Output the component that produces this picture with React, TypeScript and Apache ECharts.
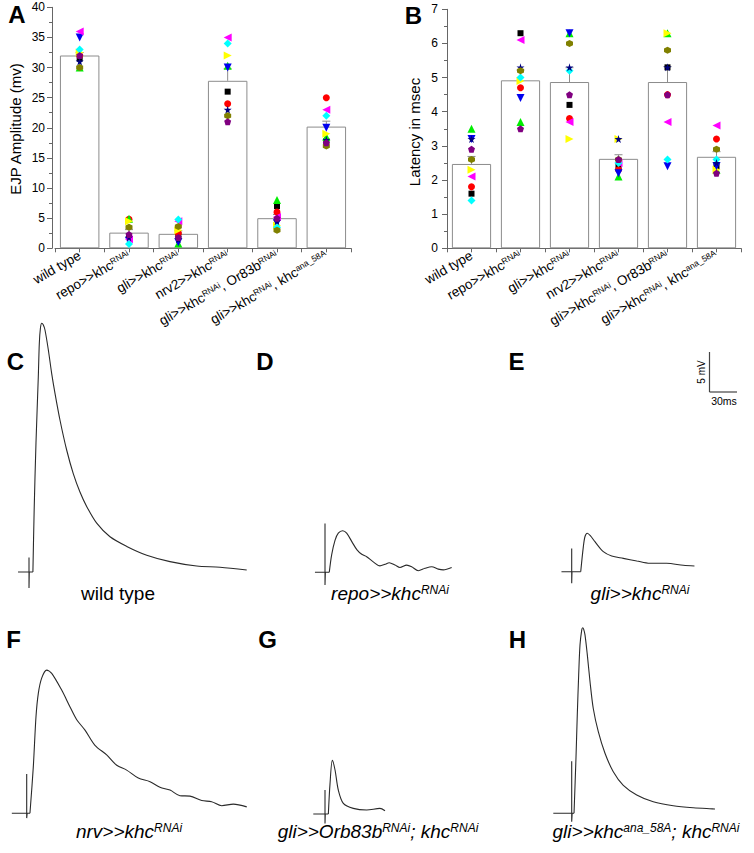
import React, { useEffect, useRef } from 'react';
import * as echarts from 'echarts';

const FONT = "'Liberation Sans', Arial, Helvetica, sans-serif";
const AXIS = '#666666';

// ---------- bar charts ----------
const categories = [
  'wild type',
  'repo>>khcRNAi',
  'gli>>khcRNAi',
  'nrv2>>khcRNAi',
  'gli>>khcRNAi, Or83bRNAi',
  'gli>>khcRNAi, khcana_58A',
];
const categoryLabels = [
  '{n|wild type}',
  '{n|repo>>khc}{s|RNAi}',
  '{n|gli>>khc}{s|RNAi}',
  '{n|nrv2>>khc}{s|RNAi}',
  '{n|gli>>khc}{s|RNAi}{n|, Or83b}{s|RNAi}',
  '{n|gli>>khc}{s|RNAi}{n|, khc}{s|ana_58A}',
];
const tickSlots = ['', '', '', '', '', '', '', '', '', '', '', ''];

const ampTicks = [0, 5, 10, 15, 20, 25, 30, 35, 40];
const latTicks = [0, 1, 2, 3, 4, 5, 6, 7];

const ampMeans = [32.0, 2.6, 2.4, 27.8, 5.0, 20.2];
const ampErr = [0.5, 0.5, 0.5, 2.0, 0.6, 0.9];
const latMeans = [2.47, 4.92, 4.87, 2.62, 4.87, 2.68];
const latErr = [0.22, 0.3, 0.42, 0.12, 0.45, 0.15];

// individual recordings, one array per marker (black, red, green, yellow, blue, magenta, cyan, star, olive, purple)
const ampBlack = [31.5, 2.0, 2.2, 26, 7, 17.8];
const ampRed = [32, 4.8, 2.5, 24, 6, 25];
const ampGreen = [30, 4.9, 0.8, 30.3, 8, 18.5];
const ampYellow = [32.5, 4.5, 3.0, 32, 3.8, 19];
const ampBlue = [35, 1.2, 1.0, 30, 4.2, 20];
const ampMagenta = [36, 1.5, 4.5, 35, 5.2, 23];
const ampCyan = [33, 0.7, 4.8, 34, 3.5, 22];
const ampStar = [31, 1.8, 1.5, 23, 4.5, 18];
const ampOlive = [30, 3.5, 3.6, 22, 3, 17];
const ampPurple = [32, 2.3, 1.8, 21, 5, 17.5];

const latBlack = [1.6, 6.3, 4.2, 2.4, 5.3, 2.4];
const latRed = [1.8, 4.7, 3.8, 2.3, 4.5, 3.2];
const latGreen = [3.5, 3.7, 6.3, 2.1, 6.3, 2.3];
const latYellow = [2.3, 4.9, 3.2, 3.2, 6.3, 2.3];
const latBlue = [3.2, 4.4, 6.3, 2.2, 2.4, 2.4];
const latMagenta = [2.1, 6.1, 3.7, 2.5, 3.7, 3.6];
const latCyan = [1.4, 5.0, 5.2, 2.5, 2.6, 2.6];
const latStar = [3.2, 5.3, 5.3, 3.2, 5.3, 2.5];
const latOlive = [2.6, 5.2, 6.0, 2.6, 5.8, 2.9];
const latPurple = [2.9, 3.5, 4.5, 2.6, 4.5, 2.2];

const ampPoints = [ampBlack, ampRed, ampGreen, ampYellow, ampBlue, ampMagenta, ampCyan, ampStar, ampOlive, ampPurple];
const latPoints = [latBlack, latRed, latGreen, latYellow, latBlue, latMagenta, latCyan, latStar, latOlive, latPurple];

const STAR = 'path://M50,0 L61,35 L98,35 L68,57 L79,91 L50,70 L21,91 L32,57 L2,35 L39,35 Z';
const HEX = 'path://M50,0 L93,25 L93,75 L50,100 L7,75 L7,25 Z';
const PENT = 'path://M50,0 L98,35 L79,95 L21,95 L2,35 Z';
const markerStyles = [
  { symbol: 'rect', color: '#000000', size: 6, rotate: 0 },
  { symbol: 'circle', color: '#ff0000', size: 7, rotate: 0 },
  { symbol: 'triangle', color: '#00ee00', size: 8, rotate: 0 },
  { symbol: 'triangle', color: '#ffff00', size: 8, rotate: -90 },
  { symbol: 'triangle', color: '#0000ee', size: 8, rotate: 180 },
  { symbol: 'triangle', color: '#ff00ff', size: 8, rotate: 90 },
  { symbol: 'diamond', color: '#00ffff', size: 8, rotate: 0 },
  { symbol: STAR, color: '#000080', size: 8, rotate: 0 },
  { symbol: HEX, color: '#808000', size: 7, rotate: 0 },
  { symbol: PENT, color: '#800080', size: 7, rotate: 0 },
];

// ---------- EJP traces (ms, mV), stimulus at 0 ms ----------
const artifactC = [[-11.8, 0], [0, 0], [0, 1.8], [0, -2], [0.3, 0], [4.2, 0]];
const traceC = [[4.2, 0], [5.6, 8], [7.5, 16.1], [10.0, 24.4], [11.1, 28.6], [12.3, 30.5], [13.7, 31.1], [15.3, 30.9], [17.2, 30.25], [20.8, 27.75], [24.4, 24.8], [28.0, 22.3], [33.3, 19.0], [40.5, 15.25], [47.6, 12.3], [54.8, 10.0], [62.0, 8.2], [72.8, 6.1], [87.1, 4.4], [105.1, 3.2], [126.6, 2.1], [151.6, 1.3], [180.3, 0.75], [205.4, 0.6], [234.1, 0.25]];

const artifactD = [[-10.8, 0], [0, 0], [0, 6.1], [0, -1.6], [0.4, 0], [4.6, 0]];
const traceD = [[4.6, 0], [7.2, 2.2], [10.75, 4.0], [14.3, 4.9], [19.0, 5.2], [23.3, 4.9], [29.0, 3.8], [34.4, 2.8], [39.5, 2.25], [44.8, 1.95], [51.9, 1.3], [59.1, 0.8], [64.5, 1.0], [69.1, 1.2], [75.3, 0.9], [80.6, 0.6], [87.8, 0.9], [93.2, 0.7], [100.3, 0.2], [107.5, 0.5], [114.7, 0.7], [121.8, 0.4], [127.2, 0.3], [136.2, 0.6]];

const artifactE = [[-11, 0], [0, 0], [0, 2.9], [0, -1.45], [0.3, 0], [9.7, 0]];
const traceE = [[9.7, 0], [12.5, 3.1], [14.3, 4.4], [16.8, 4.8], [20, 4.5], [25, 3.75], [34, 2.5], [43, 1.96], [55.5, 1.67], [70, 1.34], [84, 1.05], [102, 1.05], [120, 0.8], [132, 0.71]];

const artifactF = [[-16, 0], [0, 0], [0, 4.9], [0, -0.6], [0.5, 0], [3.5, 0]];
const traceF = [[3.5, 0], [7.1, 5.8], [10.0, 12.1], [12.5, 15.0], [16.1, 16.9], [21.5, 17.9], [26.9, 17.5], [37.6, 15.4], [46.6, 13.3], [53.8, 11.7], [62.7, 10.4], [73.4, 8.5], [86.0, 7.3], [96.8, 6.0], [107.5, 5.4], [120.0, 4.4], [132.6, 3.95], [143.3, 3.25], [154.1, 2.9], [164.8, 2.2], [175.6, 2.15], [188.2, 1.6], [198.9, 1.45], [209.7, 0.95], [222.2, 1.15], [236.6, 0.8]];

const artifactG = [[-12.6, 0], [0, 0], [0, 3], [0, -1.2], [0.3, 0], [3.6, 0]];
const traceG = [[3.6, 0], [5.4, 3.8], [7.9, 6.7], [10.8, 5.5], [14.3, 3], [19.7, 1.33], [30.4, 0.7], [44.8, 0.5], [59, 0.7], [64.5, 0.4]];

const artifactH = [[-19.8, 0], [0, 0], [0, 6.5], [0, -1.05], [0.5, 0], [2.5, 0]];
const traceH = [[2.5, 0], [4.6, 6.9], [6.0, 12.3], [7.5, 17.3], [8.9, 21.0], [10.75, 22.9], [11.8, 23.2], [12.9, 23.0], [14.3, 22.3], [16.8, 19.8], [19.7, 16.45], [23.2, 13.1], [28.6, 10.2], [35.8, 7.5], [44.7, 5.2], [55.5, 3.5], [69.9, 2.3], [87.7, 1.45], [109.2, 0.95], [130.8, 0.7], [154.1, 0.54]];

// layout of the trace panels (pixel origin of stimulus / baseline)
const SX = 0.93; // px per ms
const SY = 8; // px per mV
const XMIN = -22;
const YMIN = -4;
const YMAX = 34;
const tracePanels = [
  { ox: 29, oy: 572, xmax: 250, artifact: artifactC, trace: traceC },
  { ox: 325, oy: 572.3, xmax: 160, artifact: artifactD, trace: traceD },
  { ox: 571.7, oy: 571.7, xmax: 160, artifact: artifactE, trace: traceE },
  { ox: 26.7, oy: 813.3, xmax: 250, artifact: artifactF, trace: traceF },
  { ox: 325, oy: 814, xmax: 160, artifact: artifactG, trace: traceG },
  { ox: 571.7, oy: 813.3, xmax: 170, artifact: artifactH, trace: traceH },
];

const traceLabels = [
  { x: 118, y: 593, text: '{w|wild type}' },
  { x: 390, y: 593, text: '{n|repo>>khc}{s|RNAi}' },
  { x: 640, y: 593, text: '{n|gli>>khc}{s|RNAi}' },
  { x: 129, y: 831, text: '{n|nrv>>khc}{s|RNAi}' },
  { x: 378, y: 831, text: '{n|gli>>Orb83b}{s|RNAi}{n|; khc}{s|RNAi}' },
  { x: 646, y: 831, text: '{n|gli>>khc}{s|ana_58A}{n|; khc}{s|RNAi}' },
];

const panelLetters = [
  { t: 'A', x: 17, y: 14.5 },
  { t: 'B', x: 413.5, y: 15.5 },
  { t: 'C', x: 15.5, y: 361 },
  { t: 'D', x: 265, y: 361 },
  { t: 'E', x: 516.5, y: 361 },
  { t: 'F', x: 13.5, y: 639 },
  { t: 'G', x: 267.5, y: 639 },
  { t: 'H', x: 517.5, y: 639 },
];

function buildOption() {
  const xRich = {
    n: { fontSize: 13.5, fontFamily: FONT, color: '#000' },
    s: { fontSize: 8.5, fontFamily: FONT, color: '#000', verticalAlign: 'top' },
  };

  const barGrids = [
    { left: 55, top: 7.3, width: 296, height: 241 },
    { left: 447, top: 9.3, width: 294, height: 239 },
  ];
  const traceGrids = tracePanels.map((p) => ({
    left: p.ox + XMIN * SX,
    top: p.oy - YMAX * SY,
    width: (p.xmax - XMIN) * SX,
    height: (YMAX - YMIN) * SY,
  }));
  const grids = [...barGrids, ...traceGrids].map((g) => ({ ...g, outerBoundsMode: 'none', containLabel: false }));

  const mainX = (gridIndex: number) => ({
    type: 'category',
    gridIndex,
    data: categories,
    boundaryGap: true,
    axisLine: { show: true, lineStyle: { color: AXIS, width: 1 } },
    axisTick: { show: false },
    axisLabel: {
      interval: 0,
      rotate: 30,
      margin: 6,
      formatter: (_v: string, i: number) => categoryLabels[i],
      rich: xRich,
    },
    splitLine: { show: false },
  });
  const tickX = (gridIndex: number) => ({
    type: 'category',
    gridIndex,
    data: tickSlots,
    position: 'bottom',
    offset: 0,
    boundaryGap: true,
    axisLine: { show: false },
    axisTick: { show: true, length: 4, lineStyle: { color: AXIS } },
    axisLabel: { show: false },
    splitLine: { show: false },
  });
  const valY = (gridIndex: number, ticks: number[], offset: number, margin: number) => ({
    type: 'value',
    gridIndex,
    min: ticks[0],
    max: ticks[ticks.length - 1],
    interval: ticks[1] - ticks[0],
    offset,
    axisLine: { show: true, lineStyle: { color: AXIS, width: 1 } },
    axisTick: { show: true, length: 5, lineStyle: { color: AXIS } },
    minorTick: { show: true, splitNumber: 2, length: 3, lineStyle: { color: AXIS } },
    axisLabel: { margin, fontSize: 12, color: '#000', fontFamily: FONT },
    splitLine: { show: false },
    minorSplitLine: { show: false },
  });

  const xAxes: any[] = [mainX(0), tickX(0), mainX(1), tickX(1)];
  const yAxes: any[] = [valY(0, ampTicks, 3, 7), valY(1, latTicks, 0, 9)];
  tracePanels.forEach((p, t) => {
    xAxes.push({ type: 'value', gridIndex: 2 + t, min: XMIN, max: p.xmax, show: false });
    yAxes.push({ type: 'value', gridIndex: 2 + t, min: YMIN, max: YMAX, show: false });
  });

  const series: any[] = [];
  const addBarPanel = (xi: number, yi: number, means: number[], errs: number[], points: number[][]) => {
    series.push({
      type: 'bar',
      xAxisIndex: xi,
      yAxisIndex: yi,
      data: means,
      barWidth: '80%',
      itemStyle: { color: '#ffffff', borderColor: '#8c8c8c', borderWidth: 1 },
      z: 2,
    });
    series.push({
      type: 'custom',
      xAxisIndex: xi,
      yAxisIndex: yi,
      data: means.map((m, i) => [i, m, errs[i]]),
      encode: { x: 0, y: 1 },
      z: 3,
      renderItem: (_params: any, api: any) => {
        const i = api.value(0);
        const m = api.value(1);
        const e = api.value(2);
        const p0 = api.coord([i, m]);
        const p1 = api.coord([i, m + e]);
        return {
          type: 'group',
          children: [
            { type: 'line', shape: { x1: p0[0], y1: p0[1], x2: p1[0], y2: p1[1] }, style: { stroke: '#8c8c8c', lineWidth: 1 } },
            { type: 'line', shape: { x1: p1[0] - 4, y1: p1[1], x2: p1[0] + 4, y2: p1[1] }, style: { stroke: '#8c8c8c', lineWidth: 1 } },
          ],
        };
      },
    });
    points.forEach((vals, k) => {
      const m = markerStyles[k];
      series.push({
        type: 'scatter',
        xAxisIndex: xi,
        yAxisIndex: yi,
        data: vals.map((v, i) => [i, v]),
        symbol: m.symbol,
        symbolSize: m.size,
        symbolRotate: m.rotate,
        itemStyle: { color: m.color, opacity: 1 },
        z: 5,
      });
    });
  };
  addBarPanel(0, 0, ampMeans, ampErr, ampPoints);
  addBarPanel(2, 1, latMeans, latErr, latPoints);

  tracePanels.forEach((p, t) => {
    series.push({
      type: 'line',
      xAxisIndex: 4 + t,
      yAxisIndex: 2 + t,
      data: p.artifact,
      symbol: 'none',
      showSymbol: false,
      lineStyle: { color: '#2a2a2a', width: 1.1 },
      z: 4,
    });
    series.push({
      type: 'line',
      xAxisIndex: 4 + t,
      yAxisIndex: 2 + t,
      data: p.trace,
      symbol: 'none',
      showSymbol: false,
      smooth: 0.3,
      lineStyle: { color: '#2a2a2a', width: 1.1 },
      z: 4,
    });
  });

  const traceRich = {
    n: { fontSize: 19, fontFamily: FONT, fontStyle: 'italic', fill: '#000' },
    s: { fontSize: 12, fontFamily: FONT, fontStyle: 'italic', fill: '#000', verticalAlign: 'top' },
    w: { fontSize: 19, fontFamily: FONT, fontStyle: 'normal', fill: '#000' },
  };

  const graphic: any[] = [];
  panelLetters.forEach((l) => {
    graphic.push({
      type: 'text',
      x: l.x,
      y: l.y,
      style: { text: l.t, fontSize: 24, fontWeight: 'bold', fontFamily: FONT, fill: '#000', align: 'center', verticalAlign: 'middle' },
    });
  });
  graphic.push({
    type: 'text',
    x: 15.5,
    y: 129,
    rotation: Math.PI / 2,
    style: { text: 'EJP Amplitude (mv)', fontSize: 15, fontFamily: FONT, fill: '#000', align: 'center', verticalAlign: 'middle' },
  });
  graphic.push({
    type: 'text',
    x: 414.5,
    y: 132,
    rotation: Math.PI / 2,
    style: { text: 'Latency in msec', fontSize: 15, fontFamily: FONT, fill: '#000', align: 'center', verticalAlign: 'middle' },
  });
  traceLabels.forEach((l) => {
    graphic.push({
      type: 'text',
      x: l.x,
      y: l.y,
      style: { text: l.text, rich: traceRich, fontSize: 19, fontFamily: FONT, fill: '#000', align: 'center', verticalAlign: 'middle' },
    });
  });
  // scale bar
  graphic.push({ type: 'line', shape: { x1: 709.5, y1: 352, x2: 709.5, y2: 392 }, style: { stroke: '#444', lineWidth: 1.2 } });
  graphic.push({ type: 'line', shape: { x1: 709.5, y1: 392, x2: 737, y2: 392 }, style: { stroke: '#444', lineWidth: 1.2 } });
  graphic.push({
    type: 'text',
    x: 701.5,
    y: 372,
    rotation: Math.PI / 2,
    style: { text: '5 mV', fontSize: 10, fontFamily: FONT, fill: '#000', align: 'center', verticalAlign: 'middle' },
  });
  graphic.push({
    type: 'text',
    x: 724,
    y: 400.5,
    style: { text: '30ms', fontSize: 10.5, fontFamily: FONT, fill: '#000', align: 'center', verticalAlign: 'middle' },
  });

  return {
    animation: false,
    backgroundColor: '#ffffff',
    textStyle: { fontFamily: FONT },
    grid: grids,
    xAxis: xAxes,
    yAxis: yAxes,
    series,
    graphic,
  };
}

export default function App() {
  const ref = useRef<HTMLDivElement>(null);
  useEffect(() => {
    document.body.style.margin = '0';
    if (!ref.current) return;
    const chart = echarts.init(ref.current, undefined, { renderer: 'svg' });
    chart.setOption(buildOption() as any);
    return () => {
      chart.dispose();
    };
  }, []);
  return <div ref={ref} style={{ width: 754, height: 853, background: '#fff' }} />;
}
